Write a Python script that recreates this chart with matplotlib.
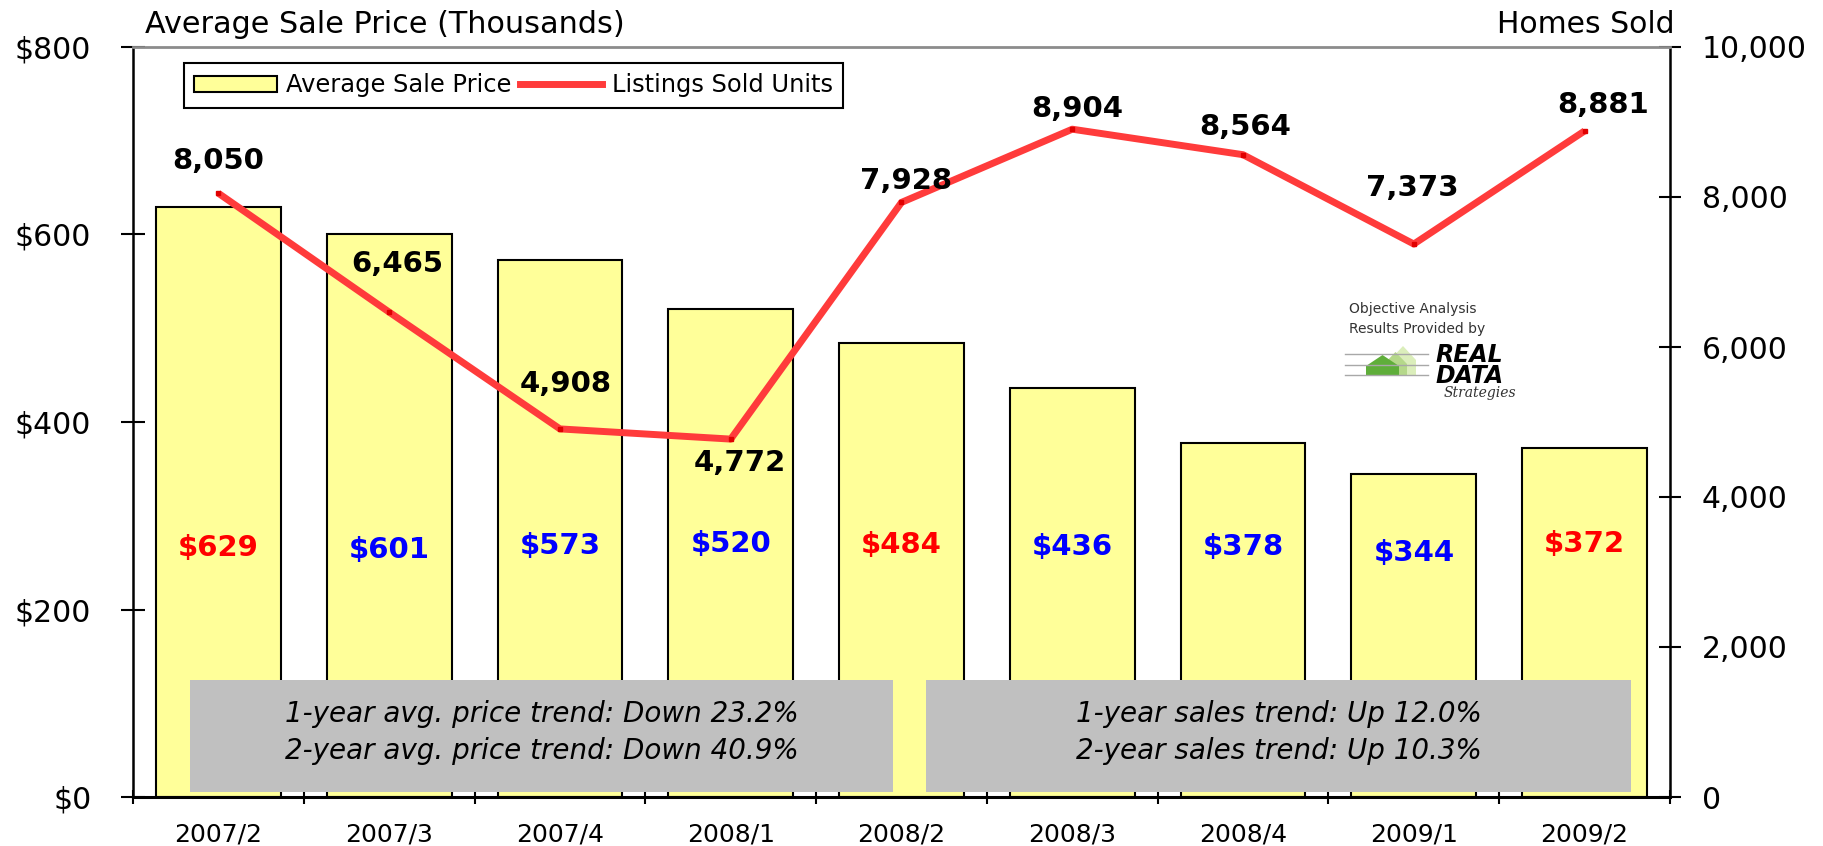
import matplotlib
matplotlib.use('Agg')
import matplotlib.pyplot as plt
from matplotlib.patches import Rectangle, Polygon
from matplotlib.lines import Line2D
import numpy as np

# ---------------- data ----------------
quarters = ['2007/2', '2007/3', '2007/4', '2008/1', '2008/2',
            '2008/3', '2008/4', '2009/1', '2009/2']
avg_price = [629, 601, 573, 520, 484, 436, 378, 344, 372]
units_sold = [8050, 6465, 4908, 4772, 7928, 8904, 8564, 7373, 8881]
price_label_colors = ['#FF0000', '#0000FF', '#0000FF', '#0000FF', '#FF0000',
                      '#0000FF', '#0000FF', '#0000FF', '#FF0000']
price_label_y = [266, 264, 268, 270, 269, 267, 267, 260, 270]
units_label_offsets = [(0, 32), (8, 48), (6, 45), (9, -24), (5, 21),
                       (5, 20), (2, 28), (-2, 56), (19, 26)]
price_ticks = [0, 200, 400, 600, 800]
units_ticks = [0, 2000, 4000, 6000, 8000, 10000]
trend_left = ['1-year avg. price trend: Down 23.2%',
              '2-year avg. price trend: Down 40.9%']
trend_right = ['1-year sales trend: Up 12.0%',
               '2-year sales trend: Up 10.3%']

# ---------------- layout ----------------
W, H = 1824, 846
fig = plt.figure(figsize=(W / 100, H / 100), dpi=100)
L, R, T, B = 133, 1670, 47, 797


def fx(px):
    return px / W


def fy(py):
    return 1 - py / H


ax = fig.add_axes([fx(L), fy(B), (R - L) / W, (B - T) / H])
n = len(quarters)
x = np.arange(n) + 0.5

ax.bar(x, avg_price, width=0.73, color='#FFFF99', edgecolor='black',
       linewidth=1.5, zorder=2)
ax.set_xlim(0, n)
ax.set_ylim(0, 800)
ax.set_yticks(price_ticks)
ax.set_yticklabels(['$%d' % v for v in price_ticks])
ax.set_xticks(np.arange(n + 1))
ax.set_xticklabels([])
ax.set_xticks(x, minor=True)
ax.set_xticklabels(quarters, minor=True)
ax.tick_params(axis='y', direction='inout', length=17, width=1.5,
               labelsize=21.5, pad=21.5)
ax.tick_params(axis='x', which='major', direction='inout', length=10,
               width=1.5)
ax.tick_params(axis='x', which='minor', length=0, labelsize=18, pad=18.5)
for s in ax.spines.values():
    s.set_visible(False)

for xi, v, c, yl in zip(x, avg_price, price_label_colors, price_label_y):
    ax.text(xi, yl, '$%d' % v, ha='center', va='center', fontsize=21,
            fontweight='bold', color=c, zorder=4)

ax2 = ax.twinx()
ax2.set_ylim(0, 10000)
ax2.set_yticks(units_ticks)
ax2.set_yticklabels(['{:,}'.format(v) for v in units_ticks])
ax2.tick_params(axis='y', direction='inout', length=16, width=1.5,
                labelsize=21.5, pad=15)
ax2.plot(x, units_sold, color='#FF3B3B', lw=5, zorder=5,
         solid_capstyle='butt', marker='s', markersize=2.5,
         markerfacecolor='#E00000', markeredgecolor='#E00000')
for xi, v, (dx, dy) in zip(x, units_sold, units_label_offsets):
    ax2.annotate('{:,}'.format(v), (xi, v), xytext=(dx, dy),
                 textcoords='offset pixels', ha='center', va='center',
                 fontsize=21, fontweight='bold', color='black', zorder=6)

ax2.spines['top'].set_color('#8c8c8c')
ax2.spines['top'].set_linewidth(2)
ax2.spines['left'].set_linewidth(1.8)
ax2.spines['right'].set_linewidth(1.8)
ax2.spines['bottom'].set_linewidth(2.2)

# trend boxes
boxes = [((190, 893), trend_left), ((926, 1631), trend_right)]
for (x0, x1), lines in boxes:
    ax2.add_patch(Rectangle(((x0 - L) / (R - L), (B - 792) / (B - T)),
                            (x1 - x0) / (R - L), 112 / (B - T),
                            transform=ax2.transAxes, facecolor='#C0C0C0',
                            edgecolor='none', zorder=7))
    cx = ((x0 + x1) / 2 - L) / (R - L)
    for txt, base in zip(lines, [722, 759]):
        ax2.text(cx, (B - base) / (B - T), txt, transform=ax2.transAxes,
                 ha='center', va='baseline', fontsize=20, style='italic',
                 color='black', zorder=8)

# legend
handles = [Rectangle((0, 0), 1, 1, facecolor='#FFFF99', edgecolor='black',
                     linewidth=1.5),
           Line2D([0], [0], color='#FF3B3B', lw=5)]
leg = fig.legend(handles, ['Average Sale Price', 'Listings Sold Units'],
                 loc='upper left', bbox_to_anchor=(fx(184), fy(63)),
                 bbox_transform=fig.transFigure, ncol=2, fontsize=17.4,
                 frameon=True, fancybox=False, framealpha=1,
                 edgecolor='black', borderaxespad=0, borderpad=0.43,
                 handlelength=3.4, handleheight=0.6, handletextpad=0.4,
                 columnspacing=0.35)
leg.get_frame().set_linewidth(1.5)

# axis titles
fig.text(fx(145), fy(33), 'Average Sale Price (Thousands)', fontsize=21.8,
         va='baseline', ha='left')
fig.text(fx(1675), fy(33), 'Homes Sold', fontsize=21.5, va='baseline',
         ha='right')

# logo
fig.text(fx(1349), fy(313), 'Objective Analysis', fontsize=10,
         color='#333333', va='baseline')
fig.text(fx(1349), fy(333), 'Results Provided by', fontsize=10,
         color='#333333', va='baseline')
for yy in [354, 365, 375]:
    fig.add_artist(Line2D([fx(1345), fx(1428)], [fy(yy), fy(yy)],
                          color='#a8a8a8', lw=1))


def house(xl, xr, yroof, ytop, ybot, color):
    pts = [(xl, ybot), (xl, yroof), ((xl + xr) / 2, ytop), (xr, yroof),
           (xr, ybot)]
    fig.add_artist(Polygon([(fx(a), fy(b)) for a, b in pts], closed=True,
                           facecolor=color, edgecolor='none'))


house(1390, 1416, 360, 346, 376, '#dbeebb')
house(1384, 1407, 364, 352, 376, '#b5d88a')
house(1366, 1399, 366, 355, 376, '#5fae3a')
fig.text(fx(1435), fy(383), 'REAL\nDATA', fontsize=17, fontweight='bold',
         style='italic', va='baseline', ha='left', linespacing=0.85)
fig.text(fx(1444), fy(397), 'Strategies', fontsize=10, style='italic',
         family='DejaVu Serif', color='#333333', va='baseline')

fig.savefig('out.png', dpi=100)
